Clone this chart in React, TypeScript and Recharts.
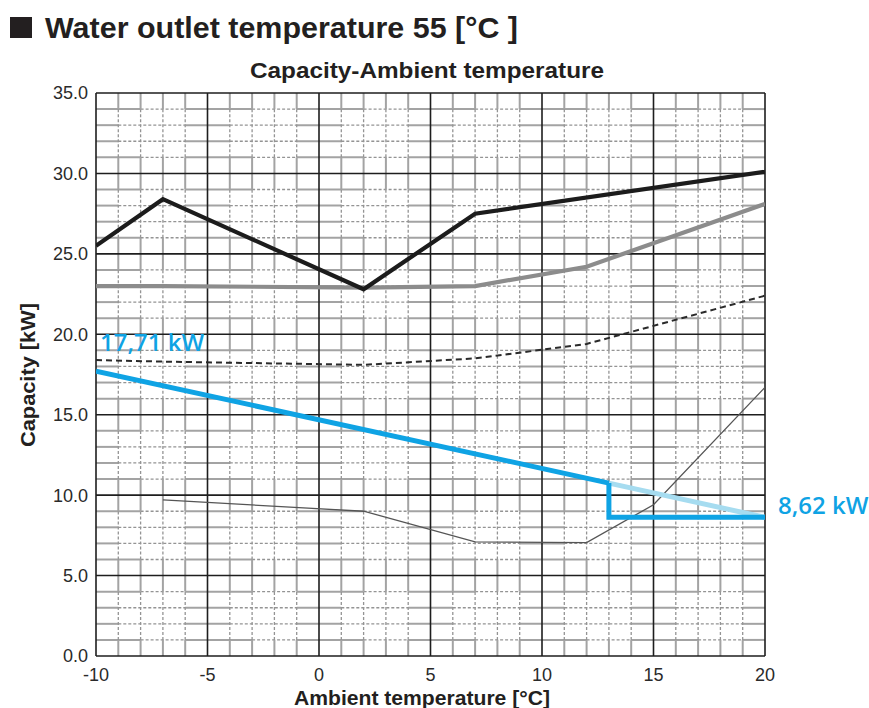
import React from 'react';
import { LineChart, Line, XAxis, YAxis, ReferenceLine } from 'recharts';

// Axis ticks
const xTicks = [-10, -5, 0, 5, 10, 15, 20];
const yTicks = [0, 5, 10, 15, 20, 25, 30, 35];
const xMinorStep = 1;
const yMinorStep = 1;

// Capacity curves (ambient temperature in °C, capacity in kW)
const maxCapX = [-10, -7, 2, 7, 20];
const maxCapY = [25.5, 28.4, 22.8, 27.5, 30.1];

const nomCapX = [-10, -7, 2, 7, 12, 20];
const nomCapY = [23.0, 23.0, 22.9, 23.0, 24.2, 28.1];

const ratedCapX = [-10, -7, 2, 7, 12, 20];
const ratedCapY = [18.4, 18.3, 18.1, 18.5, 19.4, 22.4];

const minCapX = [-7, 2, 7, 12, 15, 20];
const minCapY = [9.7, 9.0, 7.1, 7.05, 9.4, 16.7];

// Heat load line, split at the bivalent point
const loadX = [-10, 13];
const loadY = [17.71, 10.75];
const loadRestX = [13, 20];
const loadRestY = [10.75, 8.62];
const backupX = [13, 13, 20];
const backupY = [10.75, 8.62, 8.62];

const zip = (xs: number[], ys: number[]) => xs.map((x, i) => ({ x, y: ys[i] }));

const FONT = '"Liberation Sans", Arial, Helvetica, sans-serif';
const BLUE = '#0fa3e4';
const LIGHT_BLUE = '#a6dcf0';

const kw = (v: number) => `${v.toFixed(2).replace('.', ',')} kW`;

// Graph-paper grid: major lines every 5 units, minor lines every unit,
// with the inner minor segments of each major cell drawn dashed.
function buildGrid() {
  const els: React.ReactElement[] = [];
  const x0 = xTicks[0];
  const x1 = xTicks[xTicks.length - 1];
  const y0 = yTicks[0];
  const y1 = yTicks[yTicks.length - 1];
  const xMajor = xTicks[1] - xTicks[0];
  const yMajor = yTicks[1] - yTicks[0];
  const solid = { stroke: '#a3a3a3', strokeWidth: 2 };
  const dashed = { stroke: '#949494', strokeWidth: 1.3, strokeDasharray: '3 2' };

  // horizontal minor lines
  for (let y = y0 + yMinorStep; y < y1; y += yMinorStep) {
    if ((y - y0) % yMajor === 0) continue;
    const off = (y - y0) % yMajor;
    const inset = off === 1 || off === 4 ? 2 : 1;
    let cursor = x0;
    for (let a = x0; a < x1; a += xMajor) {
      const ds = a + inset;
      const de = a + 4;
      els.push(<ReferenceLine key={`hs${y}_${a}`} segment={[{ x: cursor, y }, { x: ds, y }]} {...solid} />);
      els.push(<ReferenceLine key={`hd${y}_${a}`} segment={[{ x: ds, y }, { x: de, y }]} {...dashed} />);
      cursor = de;
    }
    els.push(<ReferenceLine key={`hs${y}_end`} segment={[{ x: cursor, y }, { x: x1, y }]} {...solid} />);
  }

  // vertical minor lines
  for (let x = x0 + xMinorStep; x < x1; x += xMinorStep) {
    if ((x - x0) % xMajor === 0) continue;
    let cursor = y0;
    for (let b = y0; b < y1; b += yMajor) {
      const ds = b + 1;
      const de = b + 4;
      els.push(<ReferenceLine key={`vs${x}_${b}`} segment={[{ x, y: cursor }, { x, y: ds }]} {...solid} />);
      els.push(<ReferenceLine key={`vd${x}_${b}`} segment={[{ x, y: ds }, { x, y: de }]} {...dashed} />);
      cursor = de;
    }
    els.push(<ReferenceLine key={`vs${x}_end`} segment={[{ x, y: cursor }, { x, y: y1 }]} {...solid} />);
  }

  // major lines
  xTicks.forEach((x) =>
    els.push(<ReferenceLine key={`mx${x}`} x={x} stroke="#1e1e1e" strokeWidth={1.6} />)
  );
  yTicks.forEach((y) =>
    els.push(<ReferenceLine key={`my${y}`} y={y} stroke="#1e1e1e" strokeWidth={1.6} />)
  );
  return els;
}

const StartLabel = (props: any) => {
  const { x, y, index, value } = props;
  if (index !== 0) return null;
  return (
    <text x={x + 4} y={y - 20} fill={BLUE} fontFamily='"Open Sans", sans-serif' fontWeight={600} fontSize={24}>
      {kw(value)}
    </text>
  );
};

const EndLabel = (props: any) => {
  const { x, y, index, value } = props;
  if (index !== backupX.length - 1) return null;
  return (
    <text x={x + 13} y={y - 3} fill={BLUE} fontFamily='"Open Sans", sans-serif' fontWeight={600} fontSize={24}>
      {kw(value)}
    </text>
  );
};

export default function App() {
  const tickStyle = { fontSize: 18, fill: '#2a2a2a', fontFamily: FONT };
  return (
    <div style={{ position: 'absolute', left: 0, top: 0, width: 869, height: 708, background: '#fff' }}>
      <LineChart width={869} height={708} margin={{ top: 93, right: 104, bottom: 0, left: 0 }}>
        <XAxis
          dataKey="x"
          type="number"
          domain={[xTicks[0], xTicks[xTicks.length - 1]]}
          ticks={xTicks}
          allowDataOverflow
          axisLine={false}
          tickLine={false}
          tickSize={0}
          tickMargin={12}
          height={52}
          tick={tickStyle}
        />
        <YAxis
          dataKey="y"
          type="number"
          domain={[yTicks[0], yTicks[yTicks.length - 1]]}
          ticks={yTicks}
          allowDataOverflow
          axisLine={false}
          tickLine={false}
          tickSize={0}
          tickMargin={8}
          width={96}
          tick={tickStyle}
          tickFormatter={(v: number) => v.toFixed(1)}
        />
        {buildGrid()}
        <Line data={zip(minCapX, minCapY)} dataKey="y" stroke="#555" strokeWidth={1.3} dot={false} isAnimationActive={false} />
        <Line data={zip(ratedCapX, ratedCapY)} dataKey="y" stroke="#2a2a2a" strokeWidth={2} strokeDasharray="6 4" dot={false} isAnimationActive={false} />
        <Line data={zip(nomCapX, nomCapY)} dataKey="y" stroke="#8c8c8c" strokeWidth={4.2} dot={false} isAnimationActive={false} />
        <Line data={zip(maxCapX, maxCapY)} dataKey="y" stroke="#1c1c1c" strokeWidth={4.2} dot={false} isAnimationActive={false} />
        <Line data={zip(loadRestX, loadRestY)} dataKey="y" stroke={LIGHT_BLUE} strokeWidth={5} dot={false} isAnimationActive={false} />
        <Line data={zip(backupX, backupY)} dataKey="y" stroke={BLUE} strokeWidth={5} dot={false} label={<EndLabel />} isAnimationActive={false} />
        <Line data={zip(loadX, loadY)} dataKey="y" stroke={BLUE} strokeWidth={5} dot={false} label={<StartLabel />} isAnimationActive={false} />
      </LineChart>
      <svg width={869} height={708} style={{ position: 'absolute', left: 0, top: 0, pointerEvents: 'none' }}>
        <rect x={10} y={17} width={22} height={21} fill="#231f20" />
        <text x={45} y={38} fontFamily={FONT} fontWeight="bold" fontSize={30} fill="#231f20" textLength={473} lengthAdjust="spacingAndGlyphs">
          Water outlet temperature 55 [°C ]
        </text>
        <text x={250} y={78} fontFamily={FONT} fontWeight="bold" fontSize={22} fill="#231f20" textLength={354} lengthAdjust="spacingAndGlyphs">
          Capacity-Ambient temperature
        </text>
        <text x={294} y={705} fontFamily={FONT} fontWeight="bold" fontSize={21} fill="#231f20" textLength={256} lengthAdjust="spacingAndGlyphs">
          Ambient temperature [°C]
        </text>
        <text
          transform="translate(34.5, 375) rotate(-90)"
          x={0}
          y={0}
          textAnchor="middle"
          fontFamily={FONT}
          fontWeight="bold"
          fontSize={21}
          fill="#231f20"
          textLength={144}
          lengthAdjust="spacingAndGlyphs"
        >
          Capacity [kW]
        </text>
      </svg>
    </div>
  );
}
